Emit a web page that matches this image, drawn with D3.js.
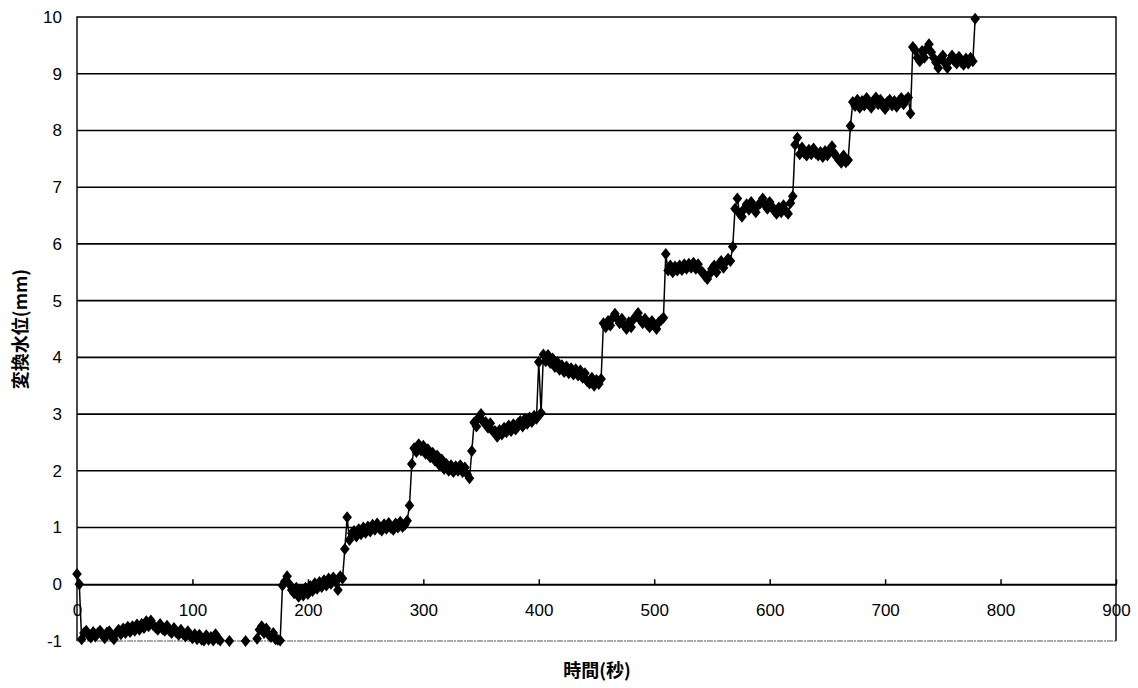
<!DOCTYPE html>
<html>
<head>
<meta charset="utf-8">
<script src="https://cdn.jsdelivr.net/npm/d3@7"></script>
<style>
  html, body { margin: 0; padding: 0; background: #fff; }
  svg { display: block; }
</style>
</head>
<body>
<svg id="chart" width="1138" height="688"></svg>
<script>
// Readings are logged every 2 seconds, starting at t = 0.
const sampleInterval = 2;

// Converted water level (mm), grouped by step of the staircase.
const stage0  = [0.18, 0.0];
const stage1  = [-0.97, -0.86, -0.82, -0.9, -0.94, -0.84, -0.92, -0.86, -0.82, -0.9, -0.95, -0.85, -0.83, -0.92, -0.97, -0.86,
                 -0.8, -0.88, -0.78, -0.86, -0.75, -0.84, -0.74, -0.82, -0.71, -0.8, -0.7, -0.77, -0.65, -0.74, -0.64, -0.72,
                 -0.76, -0.8, -0.7, -0.79, -0.82, -0.73, -0.82, -0.86, -0.77, -0.85, -0.89, -0.8, -0.88, -0.92, -0.83, -0.91,
                 -0.95, -0.88, -0.97, -0.89, -0.98, -0.99, -0.9, -0.98, -0.93, -0.99, -0.88, -0.96, -0.99, -1.04, -1.06, -1.02,
                 -1.0, -1.05, -1.08, -1.04, -1.07, -1.05, -1.1, -1.0, -1.06, -1.04, -1.08, -1.03, -0.96, -0.8, -0.74, -0.86,
                 -0.78, -0.89, -0.93, -0.86, -0.97, -0.98, -0.99];
const stage2  = [-0.02, 0.05, 0.14, 0.0, -0.1, -0.16, -0.06, -0.22, -0.1, -0.2, -0.06, -0.17, -0.03, -0.12, 0.02, -0.08,
                 0.04, -0.05, 0.07, -0.02, 0.1, 0.01, 0.12, 0.04, -0.1, 0.14, 0.1];
const stage3  = [0.62, 1.18, 0.78, 0.9, 0.94, 0.84, 0.97, 0.88, 1.0, 0.91, 1.02, 0.93, 1.05, 0.96, 1.07, 0.98, 0.95, 1.06,
                 0.98, 1.08, 0.99, 0.96, 1.07, 1.0, 1.1, 1.01, 1.05, 1.12, 1.39];
const stage4  = [2.12, 2.4, 2.33, 2.47, 2.36, 2.44, 2.3, 2.38, 2.24, 2.32, 2.18, 2.27, 2.1, 2.2, 2.03, 2.12, 2.0, 2.1,
                 1.98, 2.08, 2.0, 2.1, 1.98, 2.06, 1.94, 1.87, 2.35];
const stage5  = [2.85, 2.78, 2.94, 3.0, 2.86, 2.86, 2.76, 2.84, 2.7, 2.7, 2.6, 2.72, 2.64, 2.76, 2.68, 2.8, 2.7, 2.82,
                 2.73, 2.84, 2.88, 2.78, 2.92, 2.83, 2.94, 2.86, 2.97, 2.92];
const stage6  = [3.92, 3.02, 4.05, 3.93, 4.04, 3.9, 3.98, 3.83, 3.92, 3.78, 3.86, 3.74, 3.84, 3.72, 3.81, 3.7, 3.79, 3.68,
                 3.77, 3.64, 3.72, 3.58, 3.54, 3.64, 3.5, 3.6, 3.53, 3.62];
const stage7  = [4.6, 4.53, 4.64, 4.56, 4.7, 4.77, 4.68, 4.6, 4.68, 4.56, 4.5, 4.62, 4.53, 4.67, 4.72, 4.78, 4.66, 4.6,
                 4.68, 4.58, 4.53, 4.64, 4.56, 4.5, 4.62, 4.66, 4.7];
const stage8  = [5.82, 5.53, 5.62, 5.5, 5.6, 5.53, 5.62, 5.54, 5.64, 5.56, 5.65, 5.58, 5.67, 5.56, 5.64, 5.53, 5.5, 5.43,
                 5.38, 5.47, 5.56, 5.62, 5.5, 5.64, 5.7, 5.58, 5.68, 5.74, 5.7];
const stage9  = [5.95, 6.62, 6.8, 6.53, 6.48, 6.62, 6.7, 6.6, 6.74, 6.63, 6.56, 6.68, 6.72, 6.8, 6.68, 6.62, 6.74, 6.66,
                 6.58, 6.53, 6.64, 6.56, 6.68, 6.58, 6.53, 6.72, 6.84];
const stage10 = [7.75, 7.87, 7.58, 7.7, 7.6, 7.56, 7.66, 7.58, 7.68, 7.6, 7.56, 7.62, 7.53, 7.64, 7.56, 7.66, 7.72, 7.6,
                 7.53, 7.48, 7.43, 7.56, 7.44, 7.48];
const stage11 = [8.08, 8.5, 8.43, 8.54, 8.4, 8.52, 8.44, 8.57, 8.46, 8.4, 8.52, 8.58, 8.46, 8.54, 8.43, 8.38, 8.5, 8.54,
                 8.44, 8.52, 8.42, 8.52, 8.57, 8.46, 8.54, 8.58, 8.3];
const stage12 = [9.47, 9.42, 9.28, 9.22, 9.4, 9.28, 9.44, 9.52, 9.38, 9.28, 9.2, 9.1, 9.27, 9.32, 9.18, 9.1, 9.24, 9.32,
                 9.22, 9.18, 9.3, 9.2, 9.16, 9.27, 9.18, 9.28, 9.22];
const stage13 = [9.97];

const stages = [stage0, stage1, stage2, stage3, stage4, stage5, stage6, stage7, stage8, stage9, stage10, stage11, stage12, stage13];

const xTicks = [0, 100, 200, 300, 400, 500, 600, 700, 800, 900];
const yTicks = [-1, 0, 1, 2, 3, 4, 5, 6, 7, 8, 9, 10];
const xTitle = "時間(秒)";
const yTitle = "変換水位(mm)";

const series = stages.flat().map((v, i) => ({ t: i * sampleInterval, v }));

const svg = d3.select("#chart");
const plotLeft = 77, plotRight = 1116, plotTop = 17, plotBottom = 641;

const x = d3.scaleLinear().domain([0, 900]).range([plotLeft, plotRight]);
const y = d3.scaleLinear().domain([-1, 10]).range([plotBottom, plotTop]);

const font = "Arial, 'Liberation Sans', 'Noto Sans CJK JP', sans-serif";

// Horizontal gridlines at each whole millimetre
svg.append("g")
  .selectAll("line")
  .data(yTicks.filter(d => d > 0 && d < 10))
  .join("line")
  .attr("x1", plotLeft).attr("x2", plotRight)
  .attr("y1", d => y(d)).attr("y2", d => y(d))
  .attr("stroke", "#000").attr("stroke-width", 1.6);

// Plot frame: solid on three sides, faint along the bottom
svg.append("path")
  .attr("d", `M${plotLeft},${plotBottom}V${plotTop}H${plotRight}V${plotBottom}`)
  .attr("fill", "none").attr("stroke", "#000").attr("stroke-width", 1.4);
svg.append("line")
  .attr("x1", plotLeft).attr("x2", plotRight).attr("y1", plotBottom).attr("y2", plotBottom)
  .attr("stroke", "#555").attr("stroke-width", 1).attr("stroke-dasharray", "6,1,2,1");

// Time axis crosses at zero with short ticks pointing up
const xAxis = d3.axisBottom(x).tickValues(xTicks).tickSizeInner(-5).tickSizeOuter(0).tickPadding(20);
const gx = svg.append("g").attr("transform", `translate(0,${y(0)})`).call(xAxis);
gx.select(".domain").attr("stroke", "#000").attr("stroke-width", 1.8);
gx.selectAll(".tick line").attr("stroke", "#000").attr("stroke-width", 1.5);
gx.selectAll(".tick text").attr("font-family", font).attr("font-size", 17).attr("fill", "#000");

// Level axis labels
const yAxis = d3.axisLeft(y).tickValues(yTicks).tickSize(0).tickPadding(15);
const gy = svg.append("g").attr("transform", `translate(${plotLeft},0)`).call(yAxis);
gy.select(".domain").remove();
gy.selectAll(".tick text").attr("font-family", font).attr("font-size", 17).attr("fill", "#000")
  .text(d => d < 0 ? "-" + Math.abs(d) : d);

// Axis titles
svg.append("text")
  .attr("x", 597).attr("y", 677)
  .attr("text-anchor", "middle")
  .attr("font-family", "'Noto Sans CJK JP', sans-serif").attr("font-size", 18).attr("font-weight", 700)
  .text(xTitle);
svg.append("text")
  .attr("transform", `translate(27,${(plotTop + plotBottom) / 2}) rotate(-90)`)
  .attr("text-anchor", "middle")
  .attr("font-family", "'Noto Sans CJK JP', sans-serif").attr("font-size", 18).attr("font-weight", 700)
  .text(yTitle);

// Connecting line, clipped to the plotting window
svg.append("clipPath").attr("id", "plotClip")
  .append("rect").attr("x", plotLeft).attr("y", plotTop - 6)
  .attr("width", plotRight - plotLeft).attr("height", plotBottom - plotTop + 6);

const line = d3.line().x(d => x(d.t)).y(d => y(d.v));
svg.append("path")
  .datum(series)
  .attr("clip-path", "url(#plotClip)")
  .attr("fill", "none").attr("stroke", "#000").attr("stroke-width", 1.5)
  .attr("d", line);

// Diamond markers for readings inside the level range
svg.append("g")
  .selectAll("path")
  .data(series.filter(d => d.v >= -1.005 && d.v <= 10))
  .join("path")
  .attr("transform", d => `translate(${x(d.t)},${y(d.v)})`)
  .attr("d", "M0,-6L4.8,0L0,6L-4.8,0Z")
  .attr("fill", "#000");
</script>
</body>
</html>
